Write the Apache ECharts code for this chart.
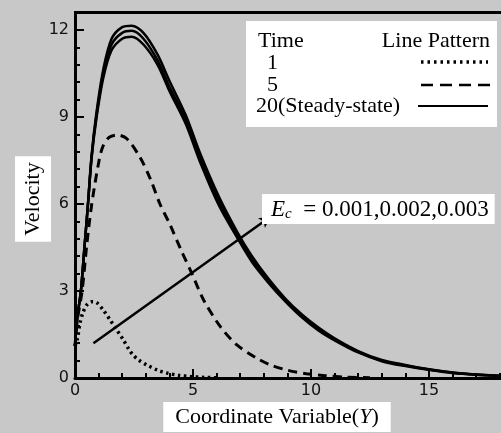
<!DOCTYPE html>
<html lang="en" style="height: 100%;width: 100%">
<head>
    <meta charset="UTF-8">
    <title>Velocity profile</title>
    <script src="https://cdn.jsdelivr.net/npm/echarts@6/dist/echarts.min.js"></script>
</head>
<body style="height: 100%; margin: 0; background: #c8c8c8">
<div id="charts" style="height: 433px;width: 501px"></div>
<script>
    // time = 1 (dotted)
    var dotX = [0, 0.1, 0.21, 0.33, 0.5, 0.71, 0.92, 1.2, 1.49, 1.77, 2.05, 2.26, 2.45, 2.7, 3.04, 3.5, 3.9, 4.4, 4.9, 5.5, 6.0];
    var dotY = [1.1, 1.35, 1.89, 2.24, 2.52, 2.63, 2.6, 2.34, 2.0, 1.66, 1.31, 1.02, 0.8, 0.62, 0.45, 0.27, 0.17, 0.09, 0.05, 0.02, 0.01];
    // time = 5 (dashed)
    var dashX = [0, 0.1, 0.3, 0.5, 0.71, 1.02, 1.19, 1.45, 1.78, 2.2, 2.76, 3.2, 3.6, 4.03, 4.5, 4.95, 5.45, 6.16, 6.86, 7.71, 8.28, 9.0, 9.8, 10.6, 11.5, 12.5];
    var dashY = [1.1, 2.0, 3.0, 4.6, 6.0, 7.5, 8.0, 8.3, 8.38, 8.25, 7.6, 6.85, 6.0, 5.28, 4.4, 3.61, 2.69, 1.77, 1.14, 0.68, 0.45, 0.27, 0.15, 0.08, 0.03, 0.01];
    // time = 20 steady state, Ec = 0.001 / 0.002 / 0.003
    var solidX = [0, 0.1, 0.25, 0.4, 0.55, 0.7, 0.9, 1.2, 1.55, 2.0, 2.4, 2.9, 3.5, 4.0, 4.7, 5.3, 6.1, 6.9, 7.5, 8.2, 8.9, 9.6, 10.3, 11, 12, 13, 14, 15, 16, 17, 18.1];
    var ec1Y = [1.1, 2.1, 3.0, 4.5, 6.0, 7.55, 8.9, 10.35, 11.3, 11.7, 11.77, 11.5, 10.8, 9.9, 8.75, 7.45, 5.95, 4.8, 4.0, 3.28, 2.65, 2.1, 1.65, 1.3, 0.88, 0.58, 0.41, 0.28, 0.17, 0.11, 0.07];
    var ec2Y = [1.1, 2.1, 3.0, 4.5, 6.0, 7.6, 9.0, 10.5, 11.5, 11.9, 11.97, 11.7, 10.95, 10.05, 8.9, 7.6, 6.1, 4.9, 4.1, 3.35, 2.7, 2.15, 1.7, 1.33, 0.9, 0.6, 0.43, 0.29, 0.18, 0.11, 0.07];
    var ec3Y = [1.1, 2.1, 3.0, 4.5, 6.0, 7.65, 9.1, 10.65, 11.7, 12.1, 12.15, 11.9, 11.15, 10.25, 9.05, 7.75, 6.25, 5.0, 4.2, 3.42, 2.75, 2.2, 1.75, 1.37, 0.93, 0.62, 0.45, 0.3, 0.19, 0.12, 0.07];
    // arrow across the Ec curves
    var arrowFrom = [0.78, 1.2];
    var arrowTo = [8.28, 5.56];
    // top edge of the plot frame
    var frameTop = 12.6;

    function pairs(xs, ys) {
        return xs.map(function (x, i) { return [x, ys[i]]; });
    }

    var serif = '"Liberation Serif", "Times New Roman", serif';
    var dom = document.getElementById("charts");
    var myChart = echarts.init(dom);

    var lineBase = {
        type: 'line',
        smooth: 0.3,
        showSymbol: false,
        silent: true,
        animation: false
    };

    option = {
        animation: false,
        backgroundColor: '#c8c8c8',
        // axes run on past the visible window: x to 20, y to 15
        grid: {left: 75, right: -46, top: -57, bottom: 55, outerBoundsMode: 'none'},
        xAxis: {
            type: 'value', min: 0, max: 20, interval: 5,
            axisLine: {show: true, lineStyle: {color: '#000', width: 3}},
            axisTick: {show: true, inside: true, length: 9, lineStyle: {width: 2, color: '#000'}},
            minorTick: {show: true, splitNumber: 5, length: 5, lineStyle: {width: 2, color: '#000'}},
            axisLabel: {color: '#111', fontSize: 16, fontFamily: '"DejaVu Sans"', margin: 5},
            splitLine: {show: false}
        },
        yAxis: {
            type: 'value', min: 0, max: 15, interval: 3,
            axisLine: {show: true, lineStyle: {color: '#000', width: 3}},
            axisTick: {show: true, inside: true, length: 9, lineStyle: {width: 2, color: '#000'}},
            minorTick: {show: true, splitNumber: 5, length: 5, lineStyle: {width: 2, color: '#000'}},
            axisLabel: {color: '#111', fontSize: 16, fontFamily: '"DejaVu Sans"', margin: 6},
            splitLine: {show: false}
        },
        series: [
            Object.assign({}, lineBase, {
                name: '1', data: pairs(dotX, dotY),
                lineStyle: {color: '#000', width: 3.5, type: [2.5, 3.5]}
            }),
            Object.assign({}, lineBase, {
                name: '5', data: pairs(dashX, dashY),
                lineStyle: {color: '#000', width: 3, type: [9, 6]}
            }),
            Object.assign({}, lineBase, {
                name: 'Ec=0.001', data: pairs(solidX, ec1Y),
                lineStyle: {color: '#000', width: 2.5},
                markLine: {
                    silent: true, animation: false, symbol: 'none',
                    label: {show: false},
                    lineStyle: {type: 'solid', color: '#000', width: 3},
                    data: [{yAxis: frameTop}]
                }
            }),
            Object.assign({}, lineBase, {
                name: 'Ec=0.002', data: pairs(solidX, ec2Y),
                lineStyle: {color: '#000', width: 2.5},
                markLine: {
                    silent: true,
                    animation: false,
                    symbol: ['none', 'arrow'],
                    symbolSize: [9, 11],
                    label: {show: false},
                    lineStyle: {type: 'solid', color: '#000', width: 2.5},
                    data: [[{coord: arrowFrom}, {coord: arrowTo}]]
                }
            }),
            Object.assign({}, lineBase, {
                name: 'Ec=0.003', data: pairs(solidX, ec3Y),
                lineStyle: {color: '#000', width: 2.5}
            })
        ],
        graphic: [
            // cover the y axis above the frame
            {type: 'rect', z: 100, shape: {x: 0, y: 0, width: 501, height: 11}, style: {fill: '#c8c8c8'}},
            // axis titles
            {
                type: 'text', z: 50, x: 33, y: 199, rotation: Math.PI / 2,
                style: {
                    text: 'Velocity', fontSize: 22, fontFamily: serif, fill: '#000',
                    align: 'center', verticalAlign: 'middle',
                    backgroundColor: '#fff', padding: [7, 6, 7, 6]
                }
            },
            {
                type: 'text', z: 50, x: 277, y: 417,
                style: {
                    text: '{n|Coordinate Variable(}{i|Y}{n|)}',
                    align: 'center', verticalAlign: 'middle',
                    backgroundColor: '#fff', padding: [4, 12, 4, 12],
                    rich: {
                        n: {fontSize: 22, fontFamily: serif, fill: '#000'},
                        i: {fontSize: 22, fontFamily: serif, fontStyle: 'italic', fill: '#000'}
                    }
                }
            },
            // legend table
            {type: 'rect', z: 50, shape: {x: 246, y: 21, width: 251, height: 106}, style: {fill: '#fff'}},
            {type: 'text', z: 51, x: 258, y: 41, style: {text: 'Time', fontSize: 22, fontFamily: serif, fill: '#000', verticalAlign: 'middle'}},
            {type: 'text', z: 51, x: 490, y: 41, style: {text: 'Line Pattern', fontSize: 22, fontFamily: serif, fill: '#000', align: 'right', verticalAlign: 'middle'}},
            {type: 'text', z: 51, x: 267, y: 63, style: {text: '1', fontSize: 22, fontFamily: serif, fill: '#000', verticalAlign: 'middle'}},
            {type: 'text', z: 51, x: 267, y: 85, style: {text: '5', fontSize: 22, fontFamily: serif, fill: '#000', verticalAlign: 'middle'}},
            {type: 'text', z: 51, x: 256, y: 106, style: {text: '20(Steady-state)', fontSize: 22, fontFamily: serif, fill: '#000', verticalAlign: 'middle'}},
            {type: 'line', z: 51, shape: {x1: 421, y1: 62, x2: 488, y2: 62}, style: {stroke: '#000', lineWidth: 3.5, lineDash: [2.5, 4]}},
            {type: 'line', z: 51, shape: {x1: 421, y1: 85, x2: 490, y2: 85}, style: {stroke: '#000', lineWidth: 2.5, lineDash: [12, 7]}},
            {type: 'line', z: 51, shape: {x1: 418, y1: 106, x2: 488, y2: 106}, style: {stroke: '#000', lineWidth: 2, lineDash: null}},
            // Ec annotation
            {
                type: 'text', z: 50, x: 262, y: 194,
                style: {
                    text: '{i|E}{s|c}{n|  = 0.001,0.002,0.003}',
                    backgroundColor: '#fff', padding: [3, 6, 2, 9],
                    rich: {
                        i: {fontSize: 23, fontFamily: serif, fontStyle: 'italic', fill: '#000'},
                        s: {fontSize: 15, fontFamily: serif, fontStyle: 'italic', fill: '#000', verticalAlign: 'bottom', padding: [10, 0, 0, 0]},
                        n: {fontSize: 23, fontFamily: serif, fill: '#000'}
                    }
                }
            }
        ]
    };

    if (option && typeof option === "object") {
        myChart.setOption(option, true);
    }
</script>
</body>
</html>
